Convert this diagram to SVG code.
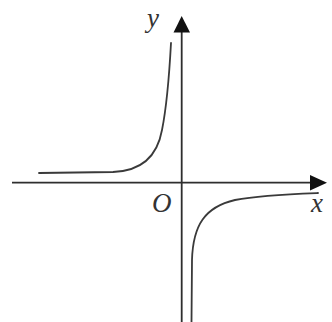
<svg xmlns="http://www.w3.org/2000/svg" width="332" height="322" viewBox="0 0 332 322">
<style>
.ax{stroke:#2e2e2e;stroke-width:1.8;fill:none}
.cv{stroke:#3a3a3a;stroke-width:1.8;fill:none;stroke-linecap:round}
.hd{fill:#111;stroke:none}
.lb{font-family:"Liberation Serif","Times New Roman",serif;font-style:italic;font-size:27px;fill:#333}
</style>
<rect width="332" height="322" fill="#fff"/>
<g id="axes">
<line class="ax" x1="12" y1="182.7" x2="314" y2="182.7"/>
<polygon class="hd" points="327,182.7 310,175 310,190.4"/>
<line class="ax" x1="181.7" y1="322" x2="181.7" y2="30"/>
<polygon class="hd" points="181.7,16 173.5,32.5 190,32.5"/>
</g>
<g id="curves">
<path class="cv" d="M39,173 L113,172 C140,171 157,158 162,130 C166,110 169,80 171,43"/>
<path class="cv" d="M191.5,322 L192,260 C193,225 205,207 235,200 C260,195 290,194 318,193"/>
</g>
<g id="labels">
<text class="lb" x="147" y="27">y</text>
<text class="lb" x="152" y="212">O</text>
<text class="lb" x="311" y="212">x</text>
</g>
</svg>
